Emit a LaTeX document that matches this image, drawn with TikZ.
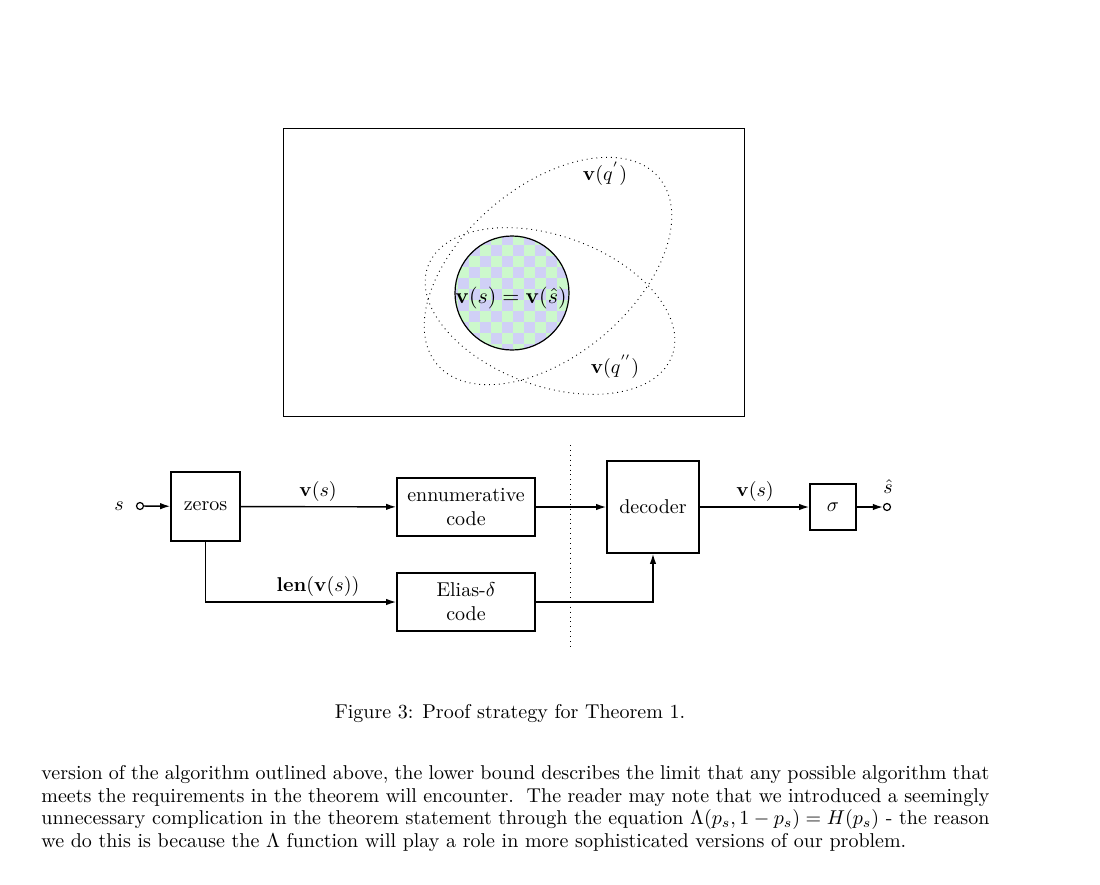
\documentclass[tikz,border=0pt]{standalone}
\usetikzlibrary{arrows.meta}
\definecolor{checkA}{RGB}{208,208,246}
\definecolor{checkB}{RGB}{204,248,204}
\tikzset{
  box/.style={draw, line width=0.8pt, inner sep=0pt, align=center},
  arr/.style={line width=0.7pt, -{Latex[length=5pt,width=3.2pt]}},
  port/.style={circle, draw, line width=0.6pt, minimum size=3.5pt, inner sep=0pt},
  dots/.style={dotted, line width=0.45pt},
}
\begin{document}
\begin{tikzpicture}[x=0.5pt, y=-0.5pt]
\useasboundingbox (0,0) rectangle (1100,885);
\fill[white] (0,0) rectangle (1100,885);

% ---------- top frame ----------
\draw[line width=0.45pt] (283,128) rectangle (744,416);

% checker disc
\begin{scope}
  \clip (512,293) circle [radius=57];
  \fill[checkA] (440,230) rectangle (580,360);
  \foreach \i in {0,...,12} {
    \pgfmathtruncatemacro\k{mod(\i,2)}
    \foreach \j in {0,2,...,12} {
      \fill[checkB] ({447+11*(\i-1)},{234+11*(\j+\k-1)}) rectangle +(11,11);
    }
  }
\end{scope}
\node[circle, draw, line width=0.6pt, minimum size=57pt, inner sep=0pt] (vs) at (512,293) {};
\node[inner sep=0pt] (vslab) at (511,298) {\fontsize{10.8}{13}\selectfont$\mathbf{v}(s)=\mathbf{v}(\hat{s})$};

\draw[dots, rotate around={40:(548,271)}] (548,271) ellipse [x radius=145, y radius=85];
\draw[dots, rotate around={-20:(550,311)}] (550,311) ellipse [x radius=130, y radius=75];
\node (q1) at (605,174) {$\mathbf{v}(q^{'})$};
\node (q2) at (615,367) {$\mathbf{v}(q^{''})$};

% ---------- block diagram ----------
\node[port] (sin) at (140,506) {};
\node (slab) at (119,506) {$s$};
\node[box, minimum width=34.5pt, minimum height=34.5pt] (zeros) at (205.5,506.5) {zeros};
\node[box, minimum width=69pt, minimum height=29pt] (enum) at (466,507) {ennumerative\\code};
\node[box, minimum width=69pt, minimum height=29pt] (elias) at (466,602) {Elias-$\delta$\\code};
\node[box, minimum width=46pt, minimum height=46pt] (dec) at (653,507) {decoder};
\node[box, minimum width=23pt, minimum height=23pt] (sig) at (833,507) {$\sigma$};
\node[port] (sout) at (887,507) {};
\node (shat) at (888,487) {$\hat{s}$};

\coordinate (dt) at (570,445);
\coordinate (db) at (570,647);
\draw[dots] (dt) -- (db);

\draw[arr] (sin) -- (zeros);
\draw[arr] (zeros) -- (enum);
\draw[arr] (zeros.south) |- (elias.west);
\draw[arr] (enum) -- (dec);
\draw[arr] (elias.east) -| (dec.south);
\draw[arr] (dec) -- (sig);
\draw[arr] (sig) -- (sout);
\node (lab1) at (318,491) {$\mathbf{v}(s)$};
\node (lab2) at (318,586) {$\mathbf{len}(\mathbf{v}(s))$};
\node (lab3) at (755,491) {$\mathbf{v}(s)$};

% ---------- caption and text ----------
\node[anchor=base, inner sep=0pt] (cap) at (510,718) {Figure 3: Proof strategy for Theorem 1.};
\node[anchor=base west, inner sep=0pt] (l1) at (41,779.5) {\makebox[474pt][s]{version of the algorithm outlined above, the lower bound describes the limit that any possible algorithm that}};
\node[anchor=base west, inner sep=0pt] (l2) at (41,802) {\makebox[474pt][s]{meets the requirements in the theorem will encounter.\ \ The reader may note that we introduced a seemingly}};
\node[anchor=base west, inner sep=0pt] (l3) at (41,824.5) {\makebox[474pt][s]{unnecessary complication in the theorem statement through the equation $\Lambda(p_s,1-p_s)=H(p_s)$ - the reason}};
\node[anchor=base west, inner sep=0pt] (l4) at (41,847) {we do this is because the $\Lambda$ function will play a role in more sophisticated versions of our problem.};
\end{tikzpicture}
\end{document}
